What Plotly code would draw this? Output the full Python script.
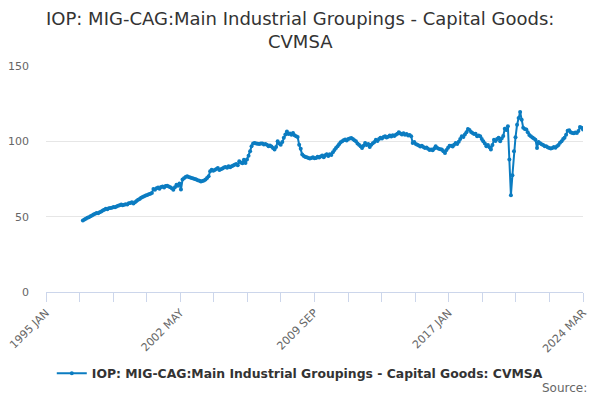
import plotly.graph_objects as go
import pandas as pd

start_month = "1997-01-01"
values_by_year = {
    1997: [47.5, 48.1, 48.6, 49.2, 49.6, 50.3, 50.7, 51.5, 51.9, 52.4, 52.2, 53.0],
    1998: [53.4, 54.1, 54.6, 55.3, 54.9, 55.6, 55.8, 56.0, 56.4, 56.2, 56.8, 57.3],
    1999: [57.6, 58.0, 57.5, 57.9, 58.3, 58.1, 58.9, 59.0, 59.5, 58.8, 59.6, 60.4],
    2000: [61.2, 61.7, 62.5, 63.0, 63.5, 64.1, 64.4, 64.8, 65.2, 65.7, 68.4, 67.9],
    2001: [68.8, 69.3, 68.6, 69.7, 70.1, 69.4, 70.3, 70.6, 70.1, 69.5, 68.9, 67.9],
    2002: [69.5, 71.2, 70.5, 72.0, 68.0, 74.6, 75.5, 76.4, 76.8, 76.3, 76.0, 75.6],
    2003: [75.3, 75.0, 74.6, 74.2, 73.8, 73.4, 73.6, 74.0, 74.6, 75.7, 76.8, 80.1],
    2004: [81.2, 80.5, 81.0, 81.7, 82.3, 81.0, 81.4, 82.0, 82.6, 83.0, 82.4, 83.4],
    2005: [82.8, 83.5, 84.0, 84.5, 85.0, 84.2, 86.7, 86.0, 85.5, 87.8, 85.7, 88.0],
    2006: [90.5, 93.5, 96.7, 98.5, 98.9, 98.6, 98.4, 98.2, 98.6, 98.5, 97.9, 98.3],
    2007: [97.8, 96.8, 97.3, 96.5, 95.5, 94.5, 96.2, 100.0, 98.5, 97.8, 99.5, 102.3],
    2008: [104.5, 106.6, 104.8, 105.2, 104.4, 105.6, 104.0, 103.3, 102.8, 97.8, 95.0, 91.2],
    2009: [90.3, 89.6, 89.4, 89.0, 88.6, 88.9, 89.5, 88.8, 89.0, 89.8, 89.2, 90.0],
    2010: [90.6, 89.4, 90.8, 91.5, 90.2, 91.4, 91.0, 92.8, 94.2, 95.6, 96.8, 98.0],
    2011: [99.4, 100.0, 100.8, 101.2, 100.5, 101.6, 101.8, 102.2, 101.5, 100.8, 100.0, 98.6],
    2012: [97.8, 96.7, 95.6, 97.0, 98.9, 97.5, 98.2, 96.3, 97.8, 98.8, 99.5, 101.1],
    2013: [100.2, 101.5, 102.3, 101.8, 102.8, 103.3, 102.5, 103.0, 103.8, 103.2, 104.0, 103.6],
    2014: [104.4, 105.0, 106.0, 105.2, 104.6, 105.4, 104.4, 104.8, 103.8, 104.2, 103.3, 98.9],
    2015: [99.5, 98.2, 97.8, 97.2, 96.5, 97.0, 96.2, 95.6, 95.9, 95.0, 94.3, 94.5],
    2016: [94.0, 95.2, 96.7, 95.5, 95.0, 94.8, 94.5, 93.5, 92.3, 94.2, 95.8, 97.1],
    2017: [97.0, 96.5, 97.8, 98.9, 98.2, 99.8, 101.5, 103.3, 102.8, 104.5, 106.0, 108.2],
    2018: [107.5, 106.2, 105.6, 104.8, 105.0, 103.3, 103.8, 103.3, 101.5, 100.0, 98.5, 96.7],
    2019: [97.5, 96.0, 94.5, 97.5, 101.0, 100.2, 101.5, 102.3, 100.0, 101.8, 103.5, 108.4],
    2020: [107.5, 110.0, 88.0, 64.2, 77.5, 93.4, 102.7, 111.0, 115.5, 119.5, 114.4, 109.0],
    2021: [108.2, 107.8, 106.0, 104.2, 103.3, 102.5, 101.8, 101.1, 95.6, 99.6, 98.8, 98.0],
    2022: [97.5, 96.8, 96.7, 96.0, 95.6, 95.2, 95.6, 96.2, 95.8, 96.7, 97.5, 99.0],
    2023: [100.0, 101.5, 102.3, 104.4, 107.1, 107.3, 106.0, 105.6, 105.4, 105.8, 105.6, 106.8],
    2024: [109.5, 109.0, 107.8],
}
series_name = "IOP: MIG-CAG:Main Industrial Groupings - Capital Goods: CVMSA"
title_text = "IOP: MIG-CAG:Main Industrial Groupings - Capital Goods:<br>CVMSA"
tick_labels = ["1995 JAN", "2002 MAY", "2009 SEP", "2017 JAN", "2024 MAR"]
y_ticks = [0, 50, 100, 150]

values = [v for y in sorted(values_by_year) for v in values_by_year[y]]
dates = pd.date_range(start_month, periods=len(values), freq="MS")

x_start = pd.Timestamp("1995-01-01")
x_end = pd.Timestamp("2024-03-01")
span = x_end - x_start
tick_vals = [x_start + span * k / 4 for k in range(5)]
minor_vals = [x_start + span * k / 16 for k in range(17)]

line_color = "#0b7cc1"
axis_color = "#ccd6eb"
center_x = 0.4726

fig = go.Figure()
fig.add_trace(go.Scatter(
    x=dates, y=values, mode="lines+markers", name=series_name,
    line=dict(color=line_color, width=2),
    marker=dict(color=line_color, size=4),
))

fig.update_layout(
    width=592, height=392,
    margin=dict(l=38, r=16.5, t=58, b=107.7, autoexpand=False),
    paper_bgcolor="white", plot_bgcolor="white",
    font=dict(family="DejaVu Sans", color="#666666", size=11),
    showlegend=True,
    legend=dict(
        orientation="h", x=center_x, xanchor="center", y=-0.361, yanchor="middle",
        font=dict(family="DejaVu Sans", size=12.4, color="#333333", weight="bold"),
        bgcolor="rgba(0,0,0,0)", itemwidth=30,
    ),
    xaxis=dict(
        type="date", automargin=False,
        range=[x_start, x_end],
        tickmode="array", tickvals=tick_vals, ticktext=tick_labels,
        tickangle=-45, ticklabeloverflow="allow",
        showgrid=False,
        showline=True, linecolor=axis_color, linewidth=1,
        ticks="outside", ticklen=9, tickcolor=axis_color,
        minor=dict(tickmode="array", tickvals=minor_vals,
                   ticks="outside", ticklen=9, tickcolor=axis_color, showgrid=False),
        tickfont=dict(size=11, color="#666666"),
        zeroline=False,
    ),
    yaxis=dict(
        range=[0, 150], automargin=False,
        tickvals=y_ticks,
        showgrid=True, gridcolor="#e6e6e6", gridwidth=1,
        zeroline=False, showline=False,
        tickfont=dict(size=11, color="#666666"),
        ticklabelstandoff=16,
    ),
    annotations=[
        dict(text=title_text, xref="paper", yref="paper",
             x=center_x, xanchor="center", y=1, yshift=60.5, yanchor="top",
             showarrow=False, align="center",
             font=dict(family="DejaVu Sans", size=18, color="#333333")),
        dict(text="Source:", xref="paper", yref="paper",
             x=1.0, xanchor="right", y=-0.423, yanchor="middle",
             showarrow=False, font=dict(size=12, color="#666666"),
             xshift=6),
    ],
)

fig.write_html("out.html")
